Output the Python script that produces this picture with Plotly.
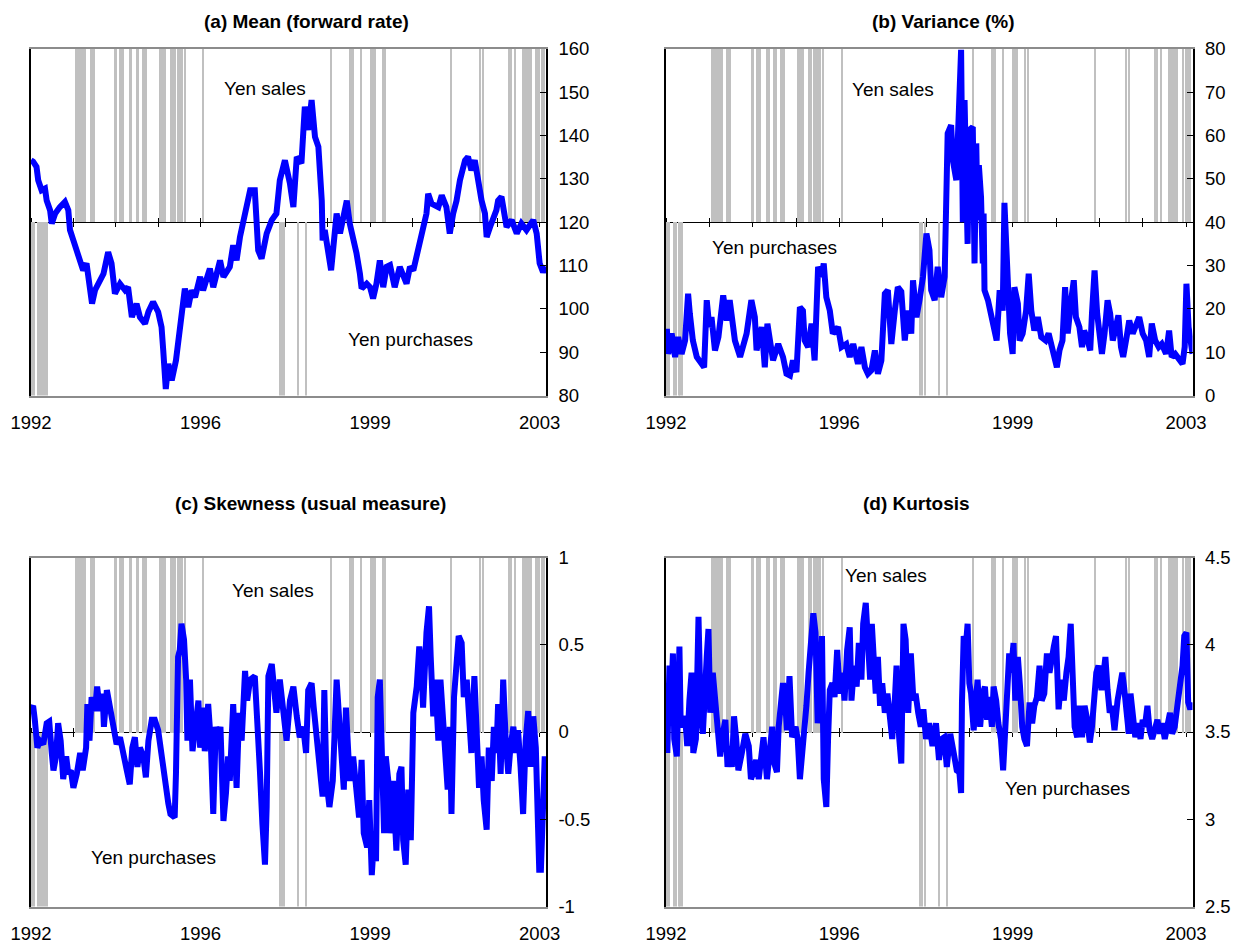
import plotly.graph_objects as go

# ---------------------------------------------------------------------------
# Time axis: decimal years measured from the start of 1992
# ---------------------------------------------------------------------------
T0 = 1992.0
X_END = 2004.15
year_ticks = list(range(1992, 2005))
label_ticks = [1992, 1996, 2000, 2004]
label_text = ["1992", "1996", "1999", "2003"]

# Intervention episodes (years after T0): yen sales and yen purchases
sales_start = [1.04, 1.21, 1.25, 1.29, 1.39, 1.96, 2.08, 2.31, 2.48, 2.62, 3.02,
               3.31, 3.35, 3.41, 3.47, 3.52, 3.57, 3.63, 4.07, 7.09, 7.52, 7.56,
               7.60, 7.79, 8.02, 8.07, 8.11, 8.30, 8.35, 9.91, 10.61, 10.68, 11.28,
               11.33, 11.42, 11.59, 11.90, 12.00, 12.06, 12.10]
sales_end = [1.18, 1.21, 1.25, 1.29, 1.51, 2.04, 2.19, 2.39, 2.55, 2.74, 3.18,
             3.31, 3.35, 3.41, 3.47, 3.52, 3.57, 3.63, 4.07, 7.09, 7.52, 7.56,
             7.60, 7.79, 8.02, 8.07, 8.11, 8.30, 8.35, 9.91, 10.61, 10.68, 11.28,
             11.33, 11.42, 11.81, 11.96, 12.00, 12.06, 12.10]
purch_start = [0.02, 0.07, 0.15, 0.30, 0.34, 0.38, 5.87, 5.92, 5.98, 6.30, 6.49]
purch_end = [0.02, 0.07, 0.26, 0.30, 0.34, 0.38, 5.87, 5.92, 5.98, 6.30, 6.49]

# (a) Mean of the risk-neutral density (forward rate)
mean_dt = [0.00, 0.05, 0.13, 0.17, 0.25, 0.33, 0.37, 0.45, 0.49, 0.57,
           0.68, 0.80, 0.88, 0.92, 1.00, 1.08, 1.16, 1.23, 1.31, 1.35,
           1.39, 1.44, 1.51, 1.63, 1.71, 1.82, 1.90, 1.98, 2.10, 2.22,
           2.29, 2.38, 2.49, 2.57, 2.69, 2.77, 2.88, 3.00, 3.08, 3.12,
           3.18, 3.24, 3.32, 3.42, 3.51, 3.58, 3.63, 3.71, 3.79, 3.87,
           3.99, 4.06, 4.22, 4.30, 4.46, 4.54, 4.69, 4.77, 4.85, 4.93,
           5.01, 5.09, 5.17, 5.28, 5.36, 5.44, 5.56, 5.68, 5.79, 5.87,
           5.99, 6.11, 6.19, 6.27, 6.38, 6.46, 6.54, 6.62, 6.70, 6.78,
           6.82, 6.86, 6.88, 6.93, 7.08, 7.13, 7.21, 7.29, 7.41, 7.45,
           7.52, 7.60, 7.68, 7.76, 7.80, 7.92, 8.00, 8.07, 8.15, 8.23,
           8.31, 8.39, 8.47, 8.58, 8.70, 8.86, 8.94, 9.02, 9.10, 9.17,
           9.25, 9.33, 9.37, 9.45, 9.61, 9.69, 9.80, 9.88, 9.96, 10.04,
           10.12, 10.24, 10.31, 10.39, 10.47, 10.55, 10.63, 10.71, 10.75, 10.83,
           10.98, 11.02, 11.10, 11.22, 11.34, 11.46, 11.57, 11.69, 11.85, 11.93,
           12.00, 12.08, 12.15]
mean_v = [134.3, 134, 132.8, 129.7, 127.4, 127.8, 125, 122.8, 119.7, 122,
          123.5, 124.7, 122.8, 118.2, 115.8, 113.5, 110.5, 108.9, 110.5, 107.4,
          105, 101.2, 104.3, 106.6, 108.1, 113.1, 110.5, 103.5, 105.8, 104.3,
          105, 98.1, 101.2, 98.1, 96.6, 99.3, 101.6, 99.3, 95.8, 90.4,
          81.5, 87.3, 83.5, 88.1, 95.8, 99.7, 104.7, 100.4, 104.3, 102.7,
          107.4, 104.3, 109.3, 105, 111.2, 107.4, 109.7, 114.7, 111.2, 116.6,
          120.5, 125, 127.4, 127.4, 113.5, 111.6, 117.4, 120.5, 122, 129.7,
          134.3, 128.9, 123.5, 135.1, 133.6, 146.7, 141.3, 148.2, 139.7, 137.4,
          132.8, 125, 115.8, 118.2, 108.9, 113.5, 122, 117.4, 122.8, 125,
          119.7, 116.6, 112.8, 108.1, 104.7, 105.8, 105, 102.4, 105.8, 111.2,
          105, 109.7, 110.1, 105, 109.7, 105.8, 109.7, 108.9, 112, 115.8,
          118.9, 122, 126.6, 124.3, 123.5, 126.2, 123.5, 117.4, 122, 125,
          129.7, 134.3, 135.1, 132, 134.3, 128.9, 125, 122, 116.6, 118.9,
          122.8, 125, 125.9, 118.9, 120.5, 117.4, 119.7, 118.2, 120.5, 117.4,
          110.5, 108.5, 109.7]

# (b) Variance (%)
var_dt = [0.02, 0.05, 0.13, 0.21, 0.28, 0.36, 0.44, 0.51, 0.55, 0.62,
          0.71, 0.82, 0.88, 0.94, 1.00, 1.05, 1.13, 1.21, 1.32, 1.40,
          1.47, 1.59, 1.71, 1.86, 1.97, 2.05, 2.09, 2.21, 2.28, 2.34,
          2.40, 2.47, 2.59, 2.70, 2.78, 2.86, 2.93, 3.01, 3.09, 3.16,
          3.20, 3.28, 3.36, 3.43, 3.51, 3.59, 3.64, 3.70, 3.78, 3.85,
          3.97, 4.05, 4.16, 4.24, 4.32, 4.43, 4.51, 4.59, 4.66, 4.74,
          4.82, 4.89, 4.97, 5.05, 5.12, 5.20, 5.28, 5.35, 5.43, 5.51,
          5.58, 5.66, 5.70, 5.78, 5.85, 5.93, 6.01, 6.08, 6.12, 6.20,
          6.27, 6.35, 6.43, 6.47, 6.50, 6.58, 6.62, 6.70, 6.73, 6.81,
          6.85, 6.89, 6.93, 6.96, 7.00, 7.08, 7.12, 7.16, 7.19, 7.22,
          7.27, 7.31, 7.33, 7.35, 7.43, 7.50, 7.58, 7.63, 7.70, 7.77,
          7.81, 7.89, 7.94, 8.00, 8.04, 8.12, 8.16, 8.23, 8.31, 8.37,
          8.43, 8.50, 8.58, 8.66, 8.76, 8.83, 8.92, 9.02, 9.08, 9.15,
          9.21, 9.27, 9.35, 9.41, 9.46, 9.54, 9.60, 9.65, 9.73, 9.79,
          9.83, 9.89, 9.95, 10.00, 10.06, 10.12, 10.19, 10.25, 10.31, 10.38,
          10.44, 10.50, 10.55, 10.63, 10.69, 10.77, 10.85, 10.92, 11.00, 11.08,
          11.15, 11.21, 11.29, 11.37, 11.44, 11.54, 11.61, 11.67, 11.75, 11.84,
          11.92, 11.97, 12.01, 12.06, 12.11, 12.15]
var_v = [15.4, 9.6, 14.3, 8.9, 13.5, 9.6, 12.7, 23.5, 18.9, 12.7,
         8.9, 7.3, 6.5, 22, 15.8, 18.1, 10.4, 13.5, 23.1, 17.3,
         22, 12.7, 8.9, 14.3, 22, 18.1, 10.4, 15.8, 6.5, 16.6,
         12.7, 8.1, 11.9, 8.9, 5.0, 4.6, 8.1, 5.4, 20.4, 19.6,
         12.7, 11.2, 16.6, 8.1, 29.7, 27.4, 30.5, 22.7, 19.6, 14.3,
         15.8, 11.2, 11.9, 8.9, 11.9, 7.3, 11.2, 6.5, 5.0, 5.8,
         10.4, 5.0, 8.1, 23.5, 24.3, 11.9, 19.6, 25.0, 24, 12.7,
         19.6, 14.3, 26.6, 18.1, 22, 27.4, 37.4, 33.5, 24.3, 22,
         29.7, 22.7, 27.4, 54.3, 60.5, 62.4, 54.3, 49.7, 60.5, 79.8,
         40, 68.2, 48.9, 35, 61.3, 62, 30.5, 58.2, 40.5, 53.2,
         45.8, 30.5, 42.0, 24.3, 22, 18.9, 15.8, 12.7, 24.3, 19.6,
         44.5, 20.4, 14.3, 9.6, 25, 21.2, 12.7, 14.3, 19.6, 28.1,
         19.6, 15.0, 18.1, 13.5, 12.7, 14.3, 10.4, 6.5, 10.4, 12.7,
         25, 14.3, 22, 26.6, 18.1, 15.8, 11.2, 15.0, 12.7, 10.4,
         18.9, 28.9, 18.9, 13.5, 9.6, 14.3, 22, 18.9, 12.7, 15.8,
         18.5, 11.2, 8.9, 13.5, 17.3, 14.3, 16.6, 18.1, 14.3, 12.7,
         8.9, 16.6, 12.7, 11.2, 11.9, 9.6, 15.0, 8.9, 9.6, 8.1,
         7.3, 11.2, 25.8, 15.8, 11.2, 9.6]

# (c) Skewness (usual measure)
skew_dt = [0.02, 0.05, 0.09, 0.15, 0.21, 0.29, 0.37, 0.43, 0.49, 0.53,
           0.59, 0.64, 0.70, 0.76, 0.83, 0.88, 0.94, 1.00, 1.08, 1.16,
           1.22, 1.30, 1.33, 1.38, 1.43, 1.51, 1.56, 1.63, 1.69, 1.72,
           1.79, 1.86, 1.94, 2.02, 2.10, 2.19, 2.26, 2.33, 2.39, 2.45,
           2.51, 2.57, 2.65, 2.71, 2.77, 2.85, 2.92, 3.00, 3.08, 3.16,
           3.24, 3.29, 3.39, 3.42, 3.47, 3.51, 3.55, 3.61, 3.66, 3.69,
           3.75, 3.81, 3.87, 3.95, 3.99, 4.05, 4.10, 4.18, 4.24, 4.30,
           4.36, 4.42, 4.47, 4.54, 4.60, 4.65, 4.69, 4.77, 4.85, 4.91,
           4.97, 5.05, 5.10, 5.17, 5.28, 5.34, 5.40, 5.46, 5.52, 5.56,
           5.60, 5.68, 5.73, 5.79,
           5.87, 6.03, 6.11, 6.19, 6.27, 6.34, 6.42, 6.49, 6.54, 6.62,
           6.67, 6.74, 6.82, 6.88, 6.92, 6.97, 7.04, 7.12, 7.21, 7.27,
           7.33, 7.38, 7.43, 7.48, 7.52, 7.60, 7.68, 7.74, 7.80, 7.85,
           7.93, 7.98, 8.04, 8.09, 8.14, 8.18, 8.23, 8.27, 8.33, 8.37,
           8.43, 8.47, 8.54, 8.62, 8.69, 8.74, 8.78, 8.84, 8.90, 8.96,
           9.02, 9.10, 9.16, 9.21, 9.25, 9.33, 9.39, 9.43, 9.49, 9.54,
           9.61, 9.66, 9.72, 9.78, 9.83, 9.88, 9.92, 9.98, 10.04, 10.09,
           10.16, 10.21, 10.28, 10.33, 10.39, 10.46, 10.51, 10.57, 10.63, 10.68,
           10.75, 10.80, 10.87, 10.92, 10.98, 11.02, 11.08, 11.14, 11.20, 11.26,
           11.31, 11.38, 11.44, 11.49, 11.55, 11.61, 11.67, 11.73, 11.79, 11.85,
           11.91, 11.94, 11.99, 12.03, 12.08, 12.12, 12.16]
skew_v = [0.14, 0.15, 0.07, -0.09, -0.05, -0.07, 0.05, 0.06, -0.12, -0.22,
          -0.14, 0.05, -0.05, -0.27, -0.14, -0.24, -0.22, -0.32, -0.24, -0.12,
          -0.22, -0.09, 0.16, -0.05, 0.2, 0.12, 0.26, 0.12, 0.22, 0.03,
          0.24, 0.14, 0.03, -0.07, -0.03, -0.12, -0.22, -0.3, -0.09, -0.03,
          -0.2, -0.09, -0.14, -0.26, -0.05, 0.07, 0.07, 0.01, -0.14, -0.32,
          -0.41, -0.47, -0.49, -0.24, 0.43, 0.47, 0.62, 0.53, 0.3, -0.05,
          0.3, -0.11, 0.05, 0.18, -0.09, 0.14, -0.11, 0.16, -0.05, -0.47,
          0.03, -0.05, 0.03, -0.51, -0.35, -0.14, -0.28, 0.16, -0.32, 0.11,
          -0.05, 0.35, 0.18, 0.3, 0.32, 0.09, -0.22, -0.53, -0.76, -0.43,
          0.32, 0.39, 0.28, 0.11,
          0.3, -0.05, 0.18, 0.26, 0.09, -0.03, 0.03, -0.12, 0.24, 0.28,
          0.14, -0.01, -0.2, -0.37, 0.24, -0.28, -0.43, -0.28, 0.3, 0.03,
          -0.16, -0.33, 0.14, -0.05, -0.28, -0.14, -0.39, -0.49, -0.16, -0.58,
          -0.66, -0.39, -0.82, -0.62, -0.74, 0.2, 0.3, -0.14, -0.58, -0.14,
          -0.28, -0.58, -0.28, -0.68, -0.24, -0.2, -0.62, -0.76, -0.33, -0.62,
          0.11, 0.26, 0.49, 0.37, 0.14, 0.57, 0.72, 0.43, 0.09, 0.3,
          -0.05, 0.3, 0.11, -0.09, -0.33, 0.03, -0.47, 0.2, 0.39, 0.55,
          0.51, 0.2, 0.3, 0.09, -0.12, 0.32, 0.09, -0.32, -0.14, -0.39,
          -0.56, -0.09, -0.28, 0.03, -0.12, 0.16, -0.24, 0.3, -0.05, -0.24,
          -0.09, 0.03, -0.12, 0.01, -0.2, -0.47, -0.05, 0.12, -0.2, 0.09,
          -0.09, -0.47, -0.79, -0.79, -0.35, -0.14, -0.28]

# (d) Kurtosis
kurt_dt = [0.03, 0.08, 0.11, 0.16, 0.19, 0.25, 0.31, 0.34, 0.44, 0.49,
           0.54, 0.59, 0.63, 0.69, 0.75, 0.80, 0.85, 0.90, 0.94, 0.98,
           1.02, 1.08, 1.13, 1.19, 1.25, 1.31, 1.37, 1.42, 1.47, 1.52,
           1.57, 1.62, 1.67, 1.75, 1.83, 1.91, 1.96, 2.02, 2.08, 2.14,
           2.20, 2.25, 2.33, 2.39, 2.45, 2.50, 2.56, 2.60, 2.64, 2.70,
           2.75, 2.79, 2.85, 2.91, 2.99, 3.04, 3.09, 3.14, 3.19, 3.24,
           3.29, 3.40, 3.45, 3.50, 3.56, 3.60, 3.64, 3.70, 3.74, 3.78,
           3.84, 3.89, 3.95, 4.01, 4.07, 4.12, 4.18, 4.24, 4.28, 4.34,
           4.40, 4.45, 4.51, 4.55, 4.61, 4.66, 4.71, 4.75, 4.78, 4.84,
           4.89, 4.94, 4.99, 5.05, 5.11, 5.17, 5.22, 5.28, 5.32, 5.38,
           5.43, 5.48, 5.53, 5.59, 5.65, 5.71, 5.76, 5.82,
           5.88, 5.94, 6.00, 6.07, 6.15, 6.23, 6.30, 6.36, 6.42, 6.48,
           6.56, 6.64, 6.71, 6.77, 6.81, 6.83, 6.87, 6.92, 6.96, 7.00,
           7.04, 7.10, 7.14, 7.19, 7.25, 7.31, 7.36, 7.41, 7.46, 7.52,
           7.56, 7.62, 7.67, 7.73, 7.78, 7.83, 7.87, 7.92, 7.96, 8.02,
           8.06, 8.12, 8.17, 8.22, 8.27, 8.33, 8.39, 8.45, 8.50, 8.56,
           8.62, 8.67, 8.73, 8.79, 8.85, 8.91, 8.95, 9.00, 9.06, 9.12,
           9.18, 9.24, 9.29, 9.34, 9.39, 9.43, 9.49, 9.54, 9.60, 9.66,
           9.72, 9.78, 9.83, 9.88, 9.93, 9.98, 10.05, 10.10, 10.14, 10.19,
           10.24, 10.29, 10.35, 10.42, 10.47, 10.53, 10.57, 10.63, 10.68, 10.72,
           10.78, 10.83, 10.90, 10.95, 11.00, 11.05, 11.11, 11.16, 11.22, 11.28,
           11.34, 11.40, 11.45, 11.51, 11.57, 11.63, 11.68, 11.74, 11.81, 11.86,
           11.92, 11.96, 12.01, 12.05, 12.10, 12.14]
kurt_v = [3.38, 3.88, 3.61, 3.95, 3.46, 3.36, 3.99, 3.53, 3.59, 3.42,
          3.68, 3.84, 3.38, 3.46, 4.16, 3.61, 3.49, 3.84, 3.93, 4.09,
          3.61, 3.84, 3.72, 3.57, 3.36, 3.49, 3.57, 3.30, 3.42, 3.30,
          3.59, 3.46, 3.28, 3.38, 3.49, 3.42, 3.23, 3.27, 3.34, 3.23,
          3.36, 3.47, 3.23, 3.38, 3.53, 3.32, 3.27, 3.53, 3.68, 3.78,
          3.68, 3.51, 3.82, 3.47, 3.53, 3.46, 3.23, 3.36, 3.53, 3.65,
          3.84, 4.18, 4.07, 3.55, 3.80, 4.05, 3.23, 3.07, 3.46, 3.74,
          3.78, 3.70, 3.97, 3.72, 3.84, 3.68, 3.97, 4.10, 3.68, 3.88,
          3.76, 4.01, 3.80, 4.12, 4.24, 4.07, 3.80, 4.12, 3.97, 3.72,
          3.93, 3.65, 3.78, 3.61, 3.72, 3.57, 3.46, 3.68, 3.88, 3.47,
          3.32, 4.12, 4.03, 3.61, 3.95, 3.68, 3.72, 3.61,
          3.53, 3.63, 3.46, 3.55, 3.42, 3.55, 3.34, 3.46, 3.47, 3.30,
          3.49, 3.38, 3.28, 3.27, 3.15, 3.67, 4.05, 3.99, 4.12, 3.78,
          3.72, 3.51, 3.70, 3.80, 3.53, 3.72, 3.76, 3.57, 3.70, 3.53,
          3.76, 3.68, 3.55, 3.46, 3.28, 3.49, 3.72, 3.95, 3.84, 4.01,
          3.68, 3.93, 3.76, 3.53, 3.46, 3.42, 3.67, 3.55, 3.65, 3.70,
          3.88, 3.68, 3.72, 3.95, 3.84, 3.97, 3.99, 4.05, 3.63, 3.80,
          3.68, 3.84, 3.93, 4.12, 3.84, 3.53, 3.47, 3.65, 3.47, 3.65,
          3.57, 3.44, 3.53, 3.68, 3.84, 3.88, 3.74, 3.84, 3.93, 3.74,
          3.61, 3.65, 3.51, 3.68, 3.78, 3.84, 3.76, 3.61, 3.49, 3.72,
          3.53, 3.47, 3.55, 3.46, 3.57, 3.53, 3.65, 3.51, 3.46, 3.53,
          3.57, 3.49, 3.55, 3.46, 3.53, 3.61, 3.49, 3.53, 3.67, 3.76,
          3.88, 4.05, 4.07, 3.67, 3.63, 3.67]

for a, b in [(mean_dt, mean_v), (var_dt, var_v), (skew_dt, skew_v), (kurt_dt, kurt_v),
             (sales_start, sales_end), (purch_start, purch_end)]:
    assert len(a) == len(b)

# ---------------------------------------------------------------------------
# Page geometry (pixels) and styling
# ---------------------------------------------------------------------------
W, H = 1249, 947
FONT = "Liberation Sans, Arial, Helvetica, sans-serif"
BLUE = "#0000FF"
BAR_GREY = "#C0C0C0"
FRAME_GREY = "#8C8C8C"
TICK_SIZE = 18.5
MIN_BAR_W = 0.035          # narrowest intervention bar, in years

panels = [
    dict(title="(a) Mean (forward rate)", dt=mean_dt, v=mean_v,
         yrange=[80, 160], yticks=[80, 90, 100, 110, 120, 130, 140, 150, 160], ytext=None,
         xpx=(31, 546), ypx=(49, 395.5),
         title_px=(306.8, 21), sales_px=(264.7, 88), purch_px=(410, 339)),
    dict(title="(b) Variance (%)", dt=var_dt, v=var_v,
         yrange=[0, 80], yticks=[0, 10, 20, 30, 40, 50, 60, 70, 80], ytext=None,
         xpx=(666, 1192.5), ypx=(49, 395.5),
         title_px=(943.3, 21), sales_px=(893, 89), purch_px=(775, 248)),
    dict(title="(c) Skewness (usual measure)", dt=skew_dt, v=skew_v,
         yrange=[-1, 1], yticks=[-1, -0.5, 0, 0.5, 1], ytext=["-1", "-0.5", "0", "0.5", "1"],
         xpx=(31, 546), ypx=(557.5, 906.5),
         title_px=(310, 503), sales_px=(272.5, 590), purch_px=(153.3, 857)),
    dict(title="(d) Kurtosis", dt=kurt_dt, v=kurt_v,
         yrange=[2.5, 4.5], yticks=[2.5, 3, 3.5, 4, 4.5], ytext=["2.5", "3", "3.5", "4", "4.5"],
         xpx=(666, 1192.5), ypx=(557.5, 906.5),
         title_px=(916, 503), sales_px=(885.5, 575), purch_px=(1067.5, 788)),
]


def ref(letter, n):
    return letter if n == 1 else f"{letter}{n}"


def key(letter, n):
    return f"{letter}axis" if n == 1 else f"{letter}axis{n}"


def px_x(x):
    return x / W


def px_y(y):
    return 1 - y / H


fig = go.Figure()
layout = {}
annotations = []

for i, p in enumerate(panels):
    kx, ky = 3 * i + 1, 2 * i + 1
    x_mid, x_lab, x_top = ref("x", kx), ref("x", kx + 1), ref("x", kx + 2)
    y_bar, y_val = ref("y", ky), ref("y", ky + 1)
    dom_x = [px_x(p["xpx"][0]), px_x(p["xpx"][1])]
    dom_y = [px_y(p["ypx"][1]), px_y(p["ypx"][0])]
    mid = (dom_y[0] + dom_y[1]) / 2

    # intervention days: sales above the centre line, purchases below
    for starts, ends, sign in [(sales_start, sales_end, 1), (purch_start, purch_end, -1)]:
        fig.add_trace(go.Bar(
            x=[T0 + (s + e) / 2 for s, e in zip(starts, ends)],
            y=[sign] * len(starts),
            width=[max(e - s, MIN_BAR_W) for s, e in zip(starts, ends)],
            base=0,
            marker=dict(color=BAR_GREY, line=dict(width=0)),
            xaxis=x_mid, yaxis=y_bar, hoverinfo="skip", showlegend=False))

    # the density moment itself
    fig.add_trace(go.Scatter(
        x=[T0 + d for d in p["dt"]], y=p["v"], mode="lines",
        line=dict(color=BLUE, width=6), xaxis=x_lab, yaxis=y_val,
        hoverinfo="x+y", showlegend=False))
    # carrier for the upward half of the centre-line ticks
    fig.add_trace(go.Scatter(x=[], y=[], mode="lines", xaxis=x_top, yaxis=y_val,
                             showlegend=False, hoverinfo="skip"))

    common = dict(automargin=False, showgrid=False, zeroline=False, fixedrange=True)
    layout[key("x", kx)] = dict(
        domain=dom_x, range=[T0, X_END], anchor="free", position=mid, side="bottom",
        showline=True, linecolor="black", linewidth=1,
        tickmode="array", tickvals=year_ticks, ticks="outside", ticklen=4,
        tickwidth=1, tickcolor="black", showticklabels=False,
        layer="below traces", **common)
    layout[key("x", kx + 1)] = dict(
        overlaying=x_mid, range=[T0, X_END], anchor=y_val, side="bottom",
        showline=True, linecolor=FRAME_GREY, linewidth=2, mirror=True,
        tickmode="array", tickvals=label_ticks, ticktext=label_text, ticks="",
        ticklabelstandoff=9, tickfont=dict(family=FONT, size=TICK_SIZE, color="black"),
        **common)
    layout[key("x", kx + 2)] = dict(
        overlaying=x_mid, range=[T0, X_END], anchor="free", position=mid, side="top",
        showline=False, tickmode="array", tickvals=year_ticks, ticks="outside",
        ticklen=4, tickwidth=1, tickcolor="black", showticklabels=False,
        layer="below traces", **common)
    layout[key("y", ky)] = dict(
        domain=dom_y, range=[-1, 1], anchor=x_mid, side="left",
        showline=True, linecolor="black", linewidth=1.5, ticks="",
        showticklabels=False, **common)
    yax = dict(
        overlaying=y_bar, range=p["yrange"], anchor=x_lab, side="right",
        showline=True, linecolor="black", linewidth=1.5,
        tickmode="array", tickvals=p["yticks"], ticks="inside", ticklen=6,
        tickwidth=1, tickcolor="black", ticklabelstandoff=7,
        tickfont=dict(family=FONT, size=TICK_SIZE, color="black"), **common)
    if p["ytext"] is not None:
        yax["ticktext"] = p["ytext"]
    layout[key("y", ky + 1)] = yax

    annotations.append(dict(
        text=f"<b>{p['title']}</b>", x=px_x(p["title_px"][0]), y=px_y(p["title_px"][1]),
        xref="paper", yref="paper", xanchor="center", yanchor="middle", showarrow=False,
        font=dict(family=FONT, size=19, color="black")))
    for txt, pos in [("Yen sales", p["sales_px"]), ("Yen purchases", p["purch_px"])]:
        annotations.append(dict(
            text=txt, x=px_x(pos[0]), y=px_y(pos[1]), xref="paper", yref="paper",
            xanchor="center", yanchor="middle", showarrow=False,
            font=dict(family=FONT, size=19, color="black")))

fig.update_layout(
    width=W, height=H, autosize=False,
    margin=dict(l=0, r=0, t=0, b=0, pad=0, autoexpand=False),
    paper_bgcolor="white", plot_bgcolor="white",
    barmode="overlay", bargap=0, showlegend=False,
    font=dict(family=FONT, size=TICK_SIZE, color="black"),
    annotations=annotations,
    **layout)

fig.write_html("out.html", post_script="document.body.style.margin='0';")
